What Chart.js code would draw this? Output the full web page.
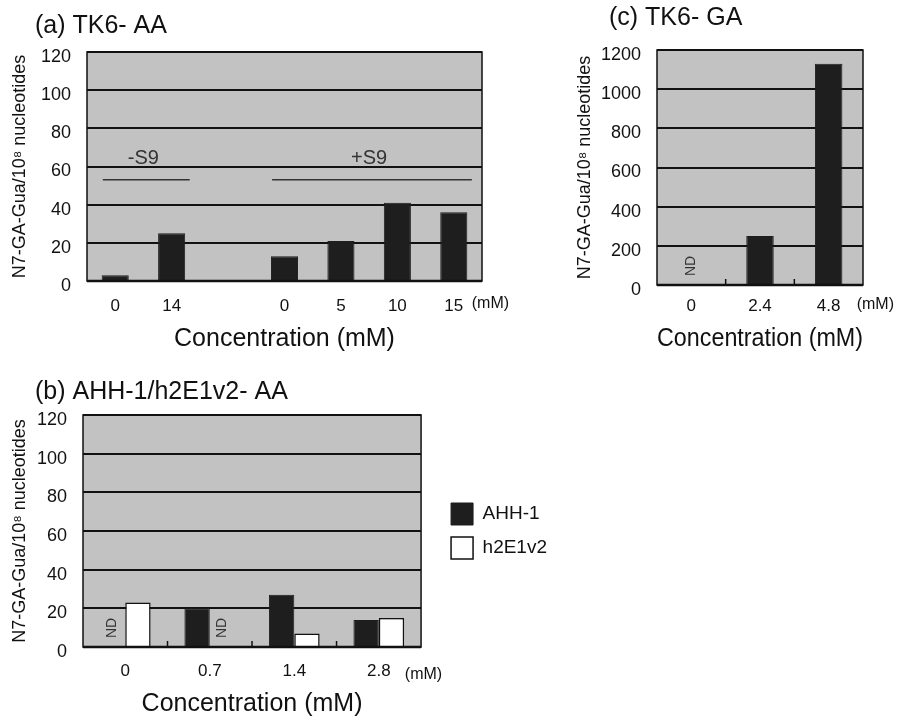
<!DOCTYPE html>
<html>
<head>
<meta charset="utf-8">
<script src="https://cdn.jsdelivr.net/npm/chart.js@4.4.0/dist/chart.umd.min.js"></script>
<style>
  html, body { margin: 0; padding: 0; background: #fff; }
  body { width: 904px; height: 720px; position: relative; overflow: hidden; }
  .panel { position: absolute; }
</style>
</head>
<body>
<div class="panel" style="left:0;top:0;width:520px;height:360px"><canvas id="chartA"></canvas></div>
<div class="panel" style="left:565px;top:0;width:339px;height:360px"><canvas id="chartC"></canvas></div>
<div class="panel" style="left:0;top:380px;width:600px;height:340px"><canvas id="chartB"></canvas></div>
<script>
  "use strict";

  var FONT = "'Liberation Sans', Arial, Helvetica, sans-serif";
  var INK = "#111";
  var Y_TITLE = "N7-GA-Gua/10\u2078 nucleotides";
  var X_TITLE = "Concentration (mM)";

  // (a) TK6 - AA  (third slot is the gap between -S9 and +S9)
  var aLabels = ["0", "14", "", "0", "5", "10", "15"];
  var aValues = [3, 25, null, 13, 21, 41, 36];
  var aGroups = [
    { text: "-S9", first: 0, last: 1 },
    { text: "+S9", first: 3, last: 6 },
  ];
  var aYMax = 120, aYStep = 20;

  // (c) TK6 - GA
  var cLabels = ["0", "2.4", "4.8"];
  var cValues = [null, 250, 1130];   // null = ND
  var cYMax = 1200, cYStep = 200;

  // (b) AHH-1 / h2E1v2 - AA
  var bLabels = ["0", "0.7", "1.4", "2.8"];
  var bSeries = ["AHH-1", "h2E1v2"];
  var bAHH = [null, 20, 27, 14];     // null = ND
  var bH2 = [23, null, 7, 15];
  var bYMax = 120, bYStep = 20;

  // draws plot background, frame, ND marks, S9 brackets, panel title and unit
  var panelDecor = {
    id: "panelDecor",
    beforeDraw: function (chart) {
      var a = chart.chartArea, ctx = chart.ctx;
      ctx.save();
      ctx.fillStyle = "#c2c2c2";
      ctx.fillRect(a.left, a.top, a.right - a.left, a.bottom - a.top);
      ctx.restore();
    },
    afterDatasetsDraw: function (chart, args, opts) {
      var a = chart.chartArea, ctx = chart.ctx;
      var xs = chart.scales.x, ys = chart.scales.y;
      ctx.save();
      ctx.strokeStyle = INK;
      ctx.lineWidth = 1.5;
      ctx.strokeRect(a.left, a.top, a.right - a.left, a.bottom - a.top);
      ctx.lineWidth = 2.5;
      ctx.beginPath();
      ctx.moveTo(a.left, a.bottom);
      ctx.lineTo(a.right, a.bottom);
      ctx.stroke();

      // small inner ticks between categories
      if (opts.innerTicks) {
        ctx.lineWidth = 1.5;
        for (var i = 0; i < chart.data.labels.length - 1; i++) {
          var px = xs.getPixelForValue(i + 0.5);
          ctx.beginPath();
          ctx.moveTo(px, a.bottom);
          ctx.lineTo(px, a.bottom - 6);
          ctx.stroke();
        }
      }

      // ND for missing values
      ctx.fillStyle = "#333";
      ctx.font = "14px " + FONT;
      ctx.textAlign = "center";
      ctx.textBaseline = "middle";
      chart.data.datasets.forEach(function (ds, di) {
        if (!ds.nd) return;
        var meta = chart.getDatasetMeta(di);
        ds.data.forEach(function (v, i) {
          if (v !== null) return;
          var el = meta.data[i];
          ctx.save();
          ctx.translate(el.x, a.bottom - 19);
          ctx.rotate(-Math.PI / 2);
          ctx.fillText("ND", 0, 0);
          ctx.restore();
        });
      });

      // -S9 / +S9 brackets
      (opts.groups || []).forEach(function (g) {
        var x1 = xs.getPixelForValue(g.first - 0.22);
        var x2 = xs.getPixelForValue(g.last + 0.32);
        var ly = ys.getPixelForValue(opts.groupLevel);
        ctx.strokeStyle = "#333";
        ctx.lineWidth = 1.5;
        ctx.beginPath();
        ctx.moveTo(x1, ly);
        ctx.lineTo(x2, ly);
        ctx.stroke();
        ctx.fillStyle = "#333";
        ctx.font = "20px " + FONT;
        ctx.fillText(g.text, (xs.getPixelForValue(g.first) + xs.getPixelForValue(g.last)) / 2, ly - 21);
      });

      // unit after last tick label
      var last = chart.data.labels.length - 1;
      ctx.fillStyle = INK;
      ctx.font = "16px " + FONT;
      ctx.textAlign = "left";
      ctx.fillText("(mM)", xs.getPixelForValue(last) + opts.unitDx, a.bottom + opts.unitDy);

      // panel title
      ctx.font = "25px " + FONT;
      ctx.fillText(opts.title, opts.titleX, opts.titleY);
      ctx.restore();
    },
  };

  function scalesFor(yMax, yStep, yWidth, xHeight, tickPad, titlePad) {
    return {
      x: {
        grid: { display: false, drawTicks: false },
        border: { display: false },
        ticks: { color: INK, font: { family: FONT, size: 17 }, padding: tickPad, autoSkip: false, maxRotation: 0 },
        title: { display: true, text: X_TITLE, color: INK, font: { family: FONT, size: 25 }, padding: { top: 0, bottom: titlePad } },
        afterFit: function (s) { s.height = xHeight; },
      },
      y: {
        min: 0,
        max: yMax,
        grid: { color: INK, lineWidth: 2, drawTicks: false },
        border: { display: false },
        ticks: {
          stepSize: yStep, color: INK, font: { family: FONT, size: 18 }, padding: 16, labelOffset: 5,
          callback: function (v) { return String(v); },
        },
        title: { display: true, text: Y_TITLE, color: INK, font: { family: FONT, size: 18 }, padding: { top: 9, bottom: 0 } },
        afterFit: function (s) { s.width = yWidth; },
      },
    };
  }

  var common = {
    responsive: true,
    maintainAspectRatio: false,
    animation: false,
    devicePixelRatio: 1,
  };

  // (a)
  new Chart(document.getElementById("chartA"), {
    type: "bar",
    data: {
      labels: aLabels,
      datasets: [{
        data: aValues,
        backgroundColor: "#1e1e1e",
        borderColor: "#1e1e1e",
        borderWidth: 1,
        categoryPercentage: 1,
        barPercentage: 0.48,
      }],
    },
    options: Object.assign({}, common, {
      layout: { padding: { top: 52, right: 38, left: 0, bottom: 0 } },
      scales: scalesFor(aYMax, aYStep, 87, 79, 15, 6),
      plugins: {
        legend: { display: false },
        tooltip: { enabled: false },
        panelDecor: {
          title: "(a) TK6- AA", titleX: 35, titleY: 26,
          groups: aGroups, groupLevel: 53,
          unitDx: 18, unitDy: 23,
        },
      },
    }),
    plugins: [panelDecor],
  });

  // (c)
  new Chart(document.getElementById("chartC"), {
    type: "bar",
    data: {
      labels: cLabels,
      datasets: [{
        data: cValues,
        nd: true,
        backgroundColor: "#1e1e1e",
        borderColor: "#1e1e1e",
        borderWidth: 1,
        categoryPercentage: 1,
        barPercentage: 0.4,
      }],
    },
    options: Object.assign({}, common, {
      layout: { padding: { top: 50, right: 41, left: 0, bottom: 0 } },
      scales: scalesFor(cYMax, cYStep, 92, 75, 11, 6),
      plugins: {
        legend: { display: false },
        tooltip: { enabled: false },
        panelDecor: {
          title: "(c) TK6- GA", titleX: 44, titleY: 18,
          innerTicks: true,
          unitDx: 28, unitDy: 20,
        },
      },
    }),
    plugins: [panelDecor],
  });

  // (b)
  var bScales = scalesFor(bYMax, bYStep, 83, 73, 14, 1);
  bScales.gap = {
    type: "linear",
    position: "right",
    display: true,
    grid: { display: false, drawTicks: false },
    border: { display: false },
    ticks: { display: false },
    afterFit: function (s) { s.width = 18; },
  };

  new Chart(document.getElementById("chartB"), {
    type: "bar",
    data: {
      labels: bLabels,
      datasets: [
        {
          label: bSeries[0],
          data: bAHH,
          nd: true,
          backgroundColor: "#1e1e1e",
          borderColor: "#1e1e1e",
          borderWidth: 1,
          categoryPercentage: 0.6,
          barPercentage: 1,
        },
        {
          label: bSeries[1],
          data: bH2,
          nd: true,
          backgroundColor: "#ffffff",
          borderColor: INK,
          borderWidth: 1.5,
          categoryPercentage: 0.6,
          barPercentage: 1,
        },
      ],
    },
    options: Object.assign({}, common, {
      layout: { padding: { top: 35, right: 43, left: 0, bottom: 0 } },
      scales: bScales,
      plugins: {
        legend: {
          display: true,
          position: "right",
          fullSize: false,
          align: "center",
          maxWidth: 200,
          labels: {
            boxWidth: 22,
            boxHeight: 22,
            padding: 12,
            color: INK,
            font: { family: FONT, size: 19 },
          },
        },
        tooltip: { enabled: false },
        panelDecor: {
          title: "(b) AHH-1/h2E1v2- AA", titleX: 35, titleY: 12,
          innerTicks: true,
          unitDx: 26, unitDy: 28,
        },
      },
    }),
    plugins: [panelDecor],
  });
</script>
</body>
</html>
